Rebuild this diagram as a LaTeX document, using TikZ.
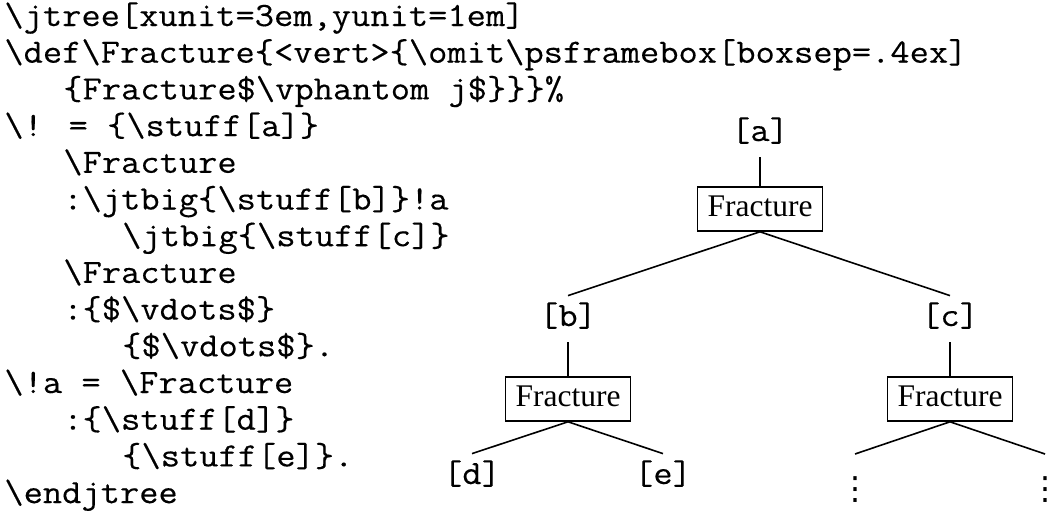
\documentclass[tikz,border=0pt]{standalone}
\usepackage{fontspec}
\newfontfamily\serifT{Liberation Serif}
\newfontfamily\codeTT[FakeStretch=1.1,FakeBold=0.3]{Latin Modern Mono}
\newfontfamily\dotsfont{DejaVu Sans}
\newcommand\codefont{\fontsize{17pt}{18.35pt}\codeTT}
\begin{document}
\begin{tikzpicture}[x=0.5pt,y=-0.5pt,
  codeline/.style={font=\codefont, anchor=base west, inner sep=0pt},
  lab/.style={font=\codefont, anchor=base, inner xsep=0pt, inner ysep=5pt, text height=10pt, text depth=3pt},
  frac/.style={draw, line width=0.8pt, anchor=base, font=\fontsize{15.75pt}{18pt}\serifT, inner xsep=5pt, inner ysep=4pt, text height=10.4pt, text depth=3.5pt},
  dotsnode/.style={anchor=north, inner xsep=0pt, inner ysep=11pt, font=\fontsize{16pt}{18pt}\dotsfont},
  edge/.style={line width=0.8pt}]
\useasboundingbox (0,0) rectangle (1050,516);
% code listing
\def\p{19.64}
\node[codeline] (l0)  at (4,26)          {\textbackslash{}jtree[xunit=3em,yunit=1em]};
\node[codeline] (l1)  at (4,62.7)        {\textbackslash{}def\textbackslash{}Fracture\{<vert>\{\textbackslash{}omit\textbackslash{}psframebox[boxsep=.4ex]};
\node[codeline] (l2)  at (4+3*\p,99.4)   {\{Fracture\$\textbackslash{}vphantom j\$\}\}\}\%};
\node[codeline] (l3)  at (4,136.1)       {\textbackslash{}! = \{\textbackslash{}stuff[a]\}};
\node[codeline] (l4)  at (4+3*\p,172.8)  {\textbackslash{}Fracture};
\node[codeline] (l5)  at (4+3*\p,209.5)  {:\textbackslash{}jtbig\{\textbackslash{}stuff[b]\}!a};
\node[codeline] (l6)  at (4+6*\p,246.2)  {\textbackslash{}jtbig\{\textbackslash{}stuff[c]\}};
\node[codeline] (l7)  at (4+3*\p,282.9)  {\textbackslash{}Fracture};
\node[codeline] (l8)  at (4+3*\p,319.6)  {:\{\$\textbackslash{}vdots\$\}};
\node[codeline] (l9)  at (4+6*\p,356.3)  {\{\$\textbackslash{}vdots\$\}.};
\node[codeline] (l10) at (4,393)         {\textbackslash{}!a = \textbackslash{}Fracture};
\node[codeline] (l11) at (4+3*\p,429.7)  {:\{\textbackslash{}stuff[d]\}};
\node[codeline] (l12) at (4+6*\p,466.4)  {\{\textbackslash{}stuff[e]\}.};
\node[codeline] (l13) at (4,503.1)       {\textbackslash{}endjtree};
% tree
\node[lab] (a) at (760,141) {[a]};
\node[frac] (fa) at (760,216) {Fracture};
\node[lab] (b) at (568,326) {[b]};
\node[lab] (c) at (950,326) {[c]};
\node[frac] (fb) at (568,406) {Fracture};
\node[frac] (fc) at (950,406) {Fracture};
\node[lab] (d) at (472,484) {[d]};
\node[lab] (e) at (663,484) {[e]};
\node[dotsnode] (v1) at (855,454) {⋮};
\node[dotsnode] (v2) at (1045,454) {⋮};
\draw[edge] (a.south) -- (fa.north);
\draw[edge] (fa.south) -- (b.north);
\draw[edge] (fa.south) -- (c.north);
\draw[edge] (b.south) -- (fb.north);
\draw[edge] (c.south) -- (fc.north);
\draw[edge] (fb.south) -- (d.north);
\draw[edge] (fb.south) -- (e.north);
\draw[edge] (fc.south) -- (v1.north);
\draw[edge] (fc.south) -- (v2.north);
\end{tikzpicture}
\end{document}
